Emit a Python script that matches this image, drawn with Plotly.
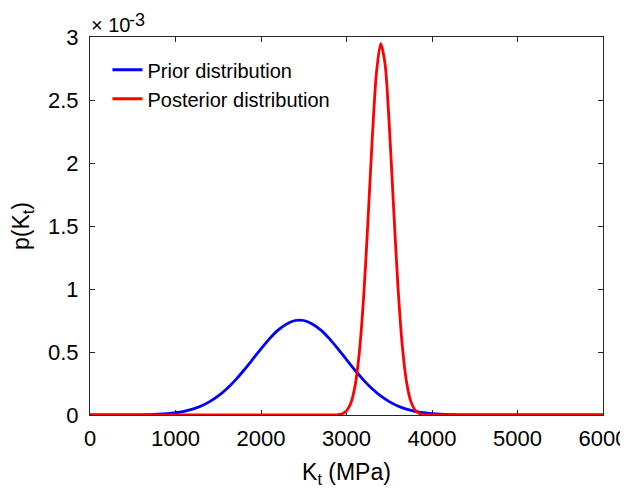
import plotly.graph_objects as go

# Kt values (MPa) and densities (in units of 1e-3)
prior_x = [0, 300, 400, 500, 600, 700, 800, 900, 1000, 1100, 1200, 1300, 1400, 1500,
           1600, 1700, 1800, 1900, 2000, 2100, 2200, 2300, 2400, 2500, 2600, 2700,
           2800, 2900, 3000, 3100, 3200, 3300, 3400, 3500, 3600, 3700, 3800, 3900,
           4000, 4100, 4200, 4300, 4400, 4500, 4600, 5000, 6000]
prior_p = [0.0, 0.0001, 0.0004, 0.0009, 0.0017, 0.0032, 0.0059, 0.0105, 0.0178, 0.0295,
           0.0467, 0.0716, 0.106, 0.151, 0.208, 0.277, 0.355, 0.440, 0.525, 0.606,
           0.674, 0.723, 0.750, 0.750, 0.723, 0.674, 0.606, 0.525, 0.440, 0.355,
           0.277, 0.208, 0.151, 0.106, 0.0716, 0.0467, 0.0295, 0.0178, 0.0105,
           0.0059, 0.0032, 0.0017, 0.0009, 0.0004, 0.0001, 0.0, 0.0]

post_x = [0, 1000, 2000, 2600, 2700, 2800, 2850, 2900, 2950, 3000, 3050, 3100, 3150,
          3200, 3250, 3300, 3350, 3400, 3450, 3500, 3550, 3600, 3650, 3700, 3750,
          3800, 3850, 3900, 3950, 4000, 4100, 4500, 5000, 6000]
post_p = [0.0, 0.0, 0.0, 0.0, 0.0, 0.0001, 0.0006, 0.0027, 0.0101, 0.0328, 0.093,
          0.230, 0.496, 0.931, 1.526, 2.180, 2.714, 2.948, 2.791, 2.303, 1.657,
          1.040, 0.568, 0.271, 0.112, 0.0408, 0.0129, 0.0035, 0.0009, 0.0002,
          0.0, 0.0, 0.0, 0.0]

x_ticks = [0, 1000, 2000, 3000, 4000, 5000, 6000]
y_ticks = [0, 0.5, 1, 1.5, 2, 2.5, 3]
y_tick_labels = ["0", "0.5", "1", "1.5", "2", "2.5", "3"]

FONT = "Liberation Sans, Arial, sans-serif"
AX = "#262626"

fig = go.Figure()
fig.add_trace(go.Scatter(x=prior_x, y=prior_p, mode="lines", name="Prior distribution",
                         line=dict(color="#0000ff", width=2.8, shape="spline", smoothing=0.8)))
fig.add_trace(go.Scatter(x=post_x, y=post_p, mode="lines", name="Posterior distribution",
                         line=dict(color="#ff0000", width=2.8, shape="spline", smoothing=0.8)))

axis_common = dict(showline=True, linecolor=AX, linewidth=1, mirror="ticks",
                   ticks="inside", ticklen=5, tickcolor=AX, showgrid=False,
                   zeroline=False, layer="below traces", automargin=False,
                   tickfont=dict(family=FONT, size=22, color="#000"))

# page body has an 8px margin, so the figure is sized to fit the 628x489 window
fig.update_layout(
    width=620, height=481,
    margin=dict(l=82, r=25, t=29, b=74),
    paper_bgcolor="white", plot_bgcolor="white",
    font=dict(family=FONT, color="#000"),
    showlegend=True,
    legend=dict(x=0.034, y=0.965, xanchor="left", yanchor="top",
                bgcolor="rgba(0,0,0,0)", borderwidth=0,
                font=dict(family=FONT, size=20, color="#000"),
                itemwidth=30, tracegroupgap=0),
    xaxis=dict(range=[0, 6000], tickvals=x_ticks, ticklabelstandoff=4,
               title=dict(text="K<sub>t</sub> (MPa)", font=dict(family=FONT, size=23), standoff=13),
               **axis_common),
    yaxis=dict(range=[0, 3], tickvals=y_ticks, ticktext=y_tick_labels, ticklabelstandoff=6,
               title=dict(text="p(K<sub>t</sub>)", font=dict(family=FONT, size=23), standoff=12),
               **axis_common),
)

# axis exponent label: "×10" with a raised "-3"
fig.add_annotation(xref="paper", yref="paper", x=0, y=1, xanchor="left", yanchor="bottom",
                   text="× 10", showarrow=False, borderpad=0,
                   font=dict(family=FONT, size=20, color="#000"), xshift=0, yshift=0)
fig.add_annotation(xref="paper", yref="paper", x=0, y=1, xanchor="left", yanchor="bottom",
                   text="-3", showarrow=False, borderpad=0,
                   font=dict(family=FONT, size=18, color="#000"), xshift=38, yshift=6)

fig.write_html("out.html")
